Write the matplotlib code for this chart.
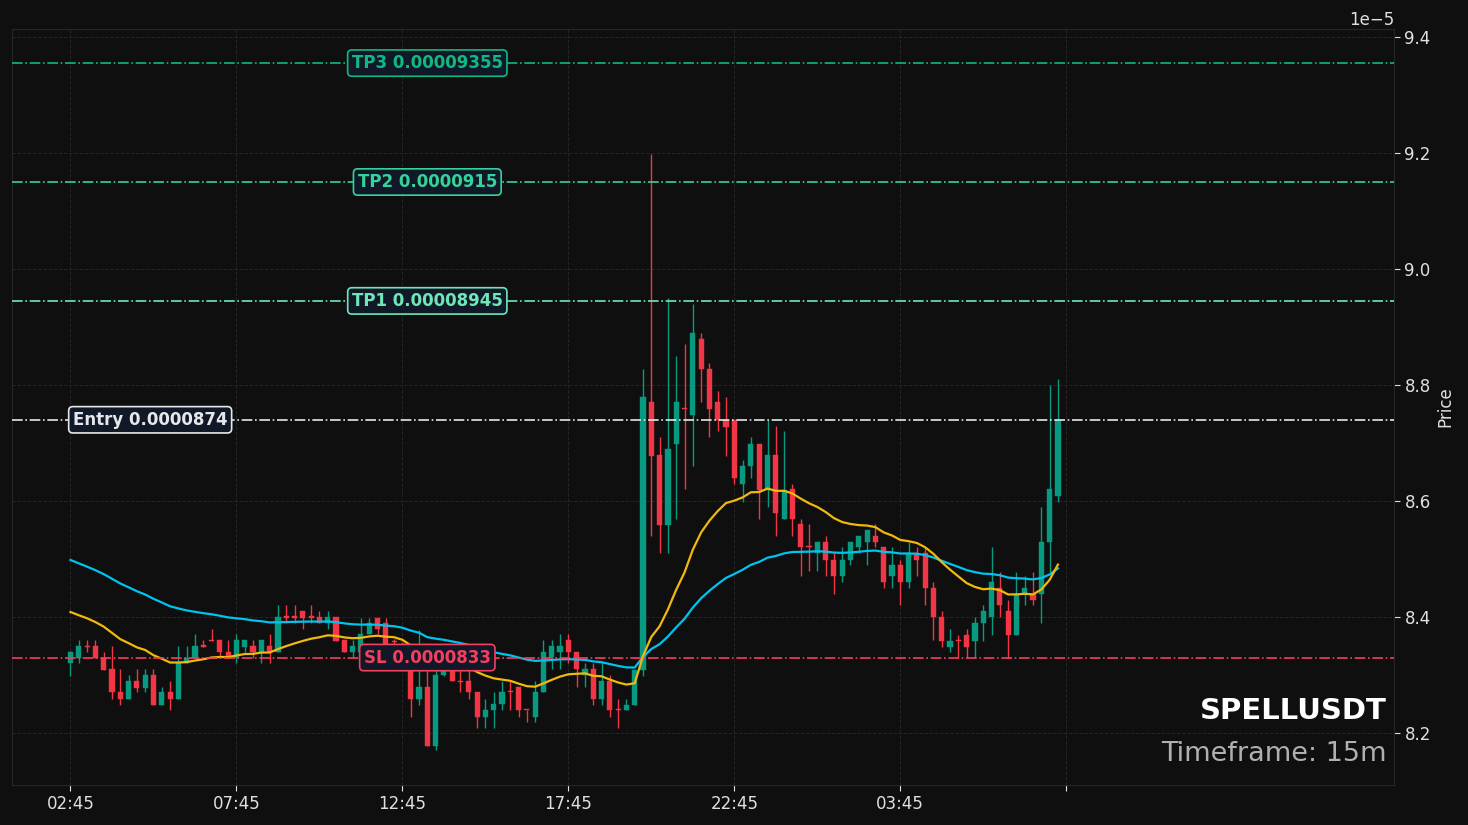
import matplotlib
matplotlib.use("Agg")
import matplotlib.pyplot as plt
import numpy as np
import pandas as pd

plt.rcParams["font.family"] = ["DejaVu Sans"]

# ---------------- data (prices in units of 1e-5) ----------------
opens = [8.320, 8.329, 8.350, 8.350, 8.330, 8.310, 8.271, 8.259, 8.290, 8.278,
         8.300, 8.249, 8.271, 8.259, 8.320, 8.330, 8.350, 8.360, 8.360, 8.340,
         8.329, 8.349, 8.350, 8.339, 8.350, 8.339, 8.400, 8.400, 8.410, 8.400,
         8.400, 8.389, 8.400, 8.360, 8.339, 8.339, 8.371, 8.399, 8.389, 8.359,
         8.350, 8.318, 8.259, 8.279, 8.178, 8.300, 8.310, 8.290, 8.289, 8.271,
         8.228, 8.240, 8.250, 8.271, 8.279, 8.240, 8.228, 8.270, 8.331, 8.340,
         8.360, 8.340, 8.300, 8.310, 8.259, 8.289, 8.240, 8.239, 8.249, 8.309,
         8.770, 8.679, 8.559, 8.699, 8.761, 8.749, 8.879, 8.828, 8.770, 8.740,
         8.740, 8.629, 8.660, 8.699, 8.619, 8.679, 8.569, 8.621, 8.560, 8.521,
         8.510, 8.529, 8.499, 8.470, 8.499, 8.520, 8.529, 8.540, 8.520, 8.470,
         8.490, 8.460, 8.510, 8.510, 8.450, 8.400, 8.349, 8.360, 8.369, 8.359,
         8.389, 8.400, 8.450, 8.410, 8.369, 8.440, 8.440, 8.440, 8.529, 8.609]
highs = [8.342, 8.360, 8.360, 8.360, 8.340, 8.350, 8.310, 8.300, 8.310, 8.310,
         8.310, 8.279, 8.290, 8.350, 8.350, 8.370, 8.360, 8.379, 8.360, 8.360,
         8.370, 8.360, 8.360, 8.360, 8.370, 8.421, 8.421, 8.421, 8.410, 8.421,
         8.410, 8.410, 8.400, 8.360, 8.360, 8.399, 8.399, 8.399, 8.399, 8.362,
         8.356, 8.322, 8.378, 8.312, 8.312, 8.318, 8.320, 8.310, 8.310, 8.271,
         8.259, 8.270, 8.289, 8.289, 8.279, 8.240, 8.289, 8.360, 8.360, 8.371,
         8.371, 8.340, 8.320, 8.320, 8.320, 8.300, 8.259, 8.259, 8.309, 8.828,
         9.199, 8.710, 8.950, 8.850, 8.870, 8.939, 8.889, 8.838, 8.789, 8.779,
         8.740, 8.670, 8.710, 8.699, 8.740, 8.730, 8.720, 8.629, 8.569, 8.560,
         8.529, 8.540, 8.510, 8.520, 8.529, 8.540, 8.550, 8.560, 8.520, 8.520,
         8.499, 8.529, 8.520, 8.520, 8.460, 8.410, 8.379, 8.369, 8.379, 8.400,
         8.420, 8.520, 8.478, 8.429, 8.478, 8.470, 8.478, 8.589, 8.800, 8.810]
lows = [8.299, 8.320, 8.339, 8.329, 8.309, 8.259, 8.249, 8.259, 8.270, 8.270,
        8.249, 8.249, 8.239, 8.259, 8.320, 8.330, 8.349, 8.359, 8.329, 8.329,
        8.320, 8.339, 8.329, 8.320, 8.320, 8.339, 8.389, 8.389, 8.379, 8.389,
        8.389, 8.379, 8.359, 8.339, 8.329, 8.329, 8.371, 8.371, 8.345, 8.335,
        8.312, 8.228, 8.249, 8.178, 8.171, 8.298, 8.289, 8.270, 8.259, 8.209,
        8.209, 8.209, 8.239, 8.239, 8.228, 8.219, 8.219, 8.270, 8.310, 8.310,
        8.320, 8.279, 8.279, 8.249, 8.249, 8.228, 8.209, 8.239, 8.249, 8.299,
        8.540, 8.510, 8.510, 8.569, 8.621, 8.660, 8.770, 8.710, 8.720, 8.678,
        8.629, 8.599, 8.639, 8.569, 8.589, 8.540, 8.569, 8.540, 8.470, 8.479,
        8.479, 8.470, 8.440, 8.460, 8.490, 8.510, 8.490, 8.520, 8.450, 8.450,
        8.420, 8.450, 8.470, 8.420, 8.360, 8.349, 8.339, 8.330, 8.330, 8.330,
        8.359, 8.369, 8.400, 8.330, 8.369, 8.420, 8.420, 8.389, 8.478, 8.599]
closes = [8.340, 8.350, 8.348, 8.329, 8.309, 8.270, 8.259, 8.290, 8.278, 8.300,
          8.249, 8.271, 8.259, 8.321, 8.329, 8.350, 8.349, 8.359, 8.339, 8.329,
          8.360, 8.360, 8.339, 8.360, 8.340, 8.400, 8.399, 8.399, 8.399, 8.399,
          8.389, 8.400, 8.359, 8.339, 8.350, 8.371, 8.389, 8.379, 8.350, 8.357,
          8.318, 8.259, 8.279, 8.178, 8.300, 8.312, 8.289, 8.288, 8.270, 8.228,
          8.240, 8.250, 8.271, 8.270, 8.239, 8.239, 8.271, 8.340, 8.350, 8.350,
          8.339, 8.310, 8.310, 8.259, 8.289, 8.239, 8.239, 8.249, 8.309, 8.779,
          8.678, 8.559, 8.689, 8.770, 8.759, 8.889, 8.828, 8.759, 8.740, 8.728,
          8.639, 8.660, 8.699, 8.619, 8.679, 8.579, 8.619, 8.569, 8.520, 8.520,
          8.529, 8.499, 8.470, 8.499, 8.529, 8.540, 8.550, 8.529, 8.460, 8.490,
          8.460, 8.510, 8.498, 8.450, 8.400, 8.359, 8.359, 8.359, 8.349, 8.389,
          8.410, 8.460, 8.420, 8.369, 8.440, 8.450, 8.429, 8.529, 8.621, 8.740]

# moving averages: value at the first visible candle
ema_fast_start = 8.4086
ema_slow_start = 8.4983
ema_fast_span = 20
ema_slow_span = 50

levels = {
    "TP3": 9.355,
    "TP2": 9.15,
    "TP1": 8.945,
    "Entry": 8.74,
    "SL": 8.33,
}
level_texts = {
    "TP3": "TP3 0.00009355",
    "TP2": "TP2 0.0000915",
    "TP1": "TP1 0.00008945",
    "Entry": "Entry 0.0000874",
    "SL": "SL 0.0000833",
}
symbol = "SPELLUSDT"
timeframe = "Timeframe: 15m"

times = pd.date_range("2024-01-01 02:45", periods=len(closes), freq="15min")

# ---------------- styling ----------------
BG = "#0f0f0f"
UP = "#089981"
DOWN = "#f23645"
C_FAST = "#f0b90b"
C_SLOW = "#00c4ee"
level_colors = {
    "TP3": "#10b981",
    "TP2": "#34d399",
    "TP1": "#6ee7b7",
    "Entry": "#e5e7eb",
    "SL": "#f43f5e",
}
label_x = {"TP3": 43, "TP2": 43, "TP1": 43, "Entry": 9.6, "SL": 43}

SCALE = 1e-5
o = np.array(opens) * SCALE
h = np.array(highs) * SCALE
l = np.array(lows) * SCALE
c = np.array(closes) * SCALE
x = np.arange(len(c))

fig = plt.figure(figsize=(14.68, 8.25), dpi=100, facecolor=BG)
ax = fig.add_axes([12 / 1468, 40 / 825, 1382 / 1468, 756 / 825])
ax.set_facecolor(BG)

# grid
ax.grid(True, color="#2b2b2b", linestyle="--", linewidth=0.7, alpha=0.8)
ax.set_axisbelow(True)

# candles
up = c >= o
colors = np.where(up, UP, DOWN)
ax.vlines(x, l, h, colors=colors, linewidth=1.0, zorder=2)
body_bottom = np.minimum(o, c)
body_h = np.maximum(np.abs(c - o), 0.002 * SCALE)
ax.bar(x, body_h, bottom=body_bottom, width=0.62, color=colors,
       edgecolor=colors, linewidth=0.3, zorder=3)

# EMAs
af = 2 / (ema_fast_span + 1)
as_ = 2 / (ema_slow_span + 1)
ef = [ema_fast_start * SCALE]
es = [ema_slow_start * SCALE]
for i in range(1, len(c)):
    ef.append(ef[-1] + af * (c[i] - ef[-1]))
    es.append(es[-1] + as_ * (c[i] - es[-1]))
ax.plot(x, es, color=C_SLOW, linewidth=1.6, zorder=4)
ax.plot(x, ef, color=C_FAST, linewidth=1.6, zorder=4)

# levels
for k, v in levels.items():
    col = level_colors[k]
    ax.axhline(v * SCALE, color=col, linestyle="-.", linewidth=1.2, zorder=5)
    ax.text(label_x[k], v * SCALE, level_texts[k], color=col, fontsize=12,
            fontweight="bold", ha="center", va="center", zorder=6,
            bbox=dict(boxstyle="round,pad=0.25", facecolor="#111827",
                      edgecolor=col, linewidth=1.2))

ax.set_xlim(-7.05, 159.5)
ax.set_ylim(8.1103 * SCALE, 9.4138 * SCALE)

# axes formatting
tick_idx = list(range(0, len(c) + 1, 20))
tick_lab = [times[i].strftime("%H:%M") if i < len(c) else "" for i in tick_idx]
ax.set_xticks(tick_idx)
ax.set_xticklabels(tick_lab)
ax.set_yticks(np.array([8.2, 8.4, 8.6, 8.8, 9.0, 9.2, 9.4]) * SCALE)
ax.yaxis.tick_right()
ax.yaxis.set_label_position("right")
ax.set_ylabel("Price", color="#e0e0e0", fontsize=12)
ax.tick_params(colors="#e0e0e0", labelsize=12, length=4, width=0.8)
ax.yaxis.get_offset_text().set_color("#e0e0e0")
ax.yaxis.get_offset_text().set_fontsize(12)
for sp in ax.spines.values():
    sp.set_color("#262626")
    sp.set_linewidth(0.8)

ax.text(0.995, 0.098, symbol, transform=ax.transAxes, ha="right", va="center",
        color="#ffffff", fontsize=21, fontweight="bold", zorder=7)
ax.text(0.995, 0.041, timeframe, transform=ax.transAxes, ha="right", va="center",
        color="#b0b0b0", fontsize=19.5, zorder=7)

fig.savefig("out.png", dpi=100, facecolor=BG)
